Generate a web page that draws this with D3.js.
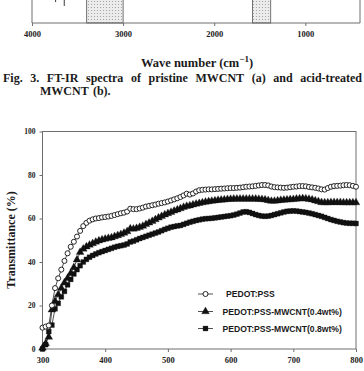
<!DOCTYPE html>
<html>
<head>
<meta charset="utf-8">
<script src="https://cdn.jsdelivr.net/npm/d3@7/dist/d3.min.js"></script>
<style>
  body { margin: 0; background: #fff; }
  svg { display: block; }
</style>
</head>
<body>
<svg width="364" height="371"></svg>
<script>
// ---- data: bottom of previous figure (FT-IR) ----
var irTicks = [4000, 3000, 2000, 1000];
var irBands = [[3400, 3000], [1580, 1380]];
var irTipWave = [3741, 3646];
var irTipLow = [9.1, 7.4];

var captionLine1 = "Fig. 3. FT-IR spectra of pristine MWCNT (a) and acid-treated";
var captionLine2 = "MWCNT (b).";

// ---- data: transmittance chart ----
var seriesNames = ["PEDOT:PSS", "PEDOT:PSS-MWCNT(0.4wt%)", "PEDOT:PSS-MWCNT(0.8wt%)"];
var xTicks = [300, 400, 500, 600, 700, 800];
var yTicks = [0, 20, 40, 60, 80, 100];

var wavelength = [300, 305, 310, 315, 320, 325, 330, 335, 340, 345, 350, 355, 360, 365, 370, 375, 380, 385, 390, 395,
  400, 405, 410, 415, 420, 425, 430, 435, 440, 445, 450, 455, 460, 465, 470, 475, 480, 485, 490, 495,
  500, 505, 510, 515, 520, 525, 530, 535, 540, 545, 550, 555, 560, 565, 570, 575, 580, 585, 590, 595,
  600, 605, 610, 615, 620, 625, 630, 635, 640, 645, 650, 655, 660, 665, 670, 675, 680, 685, 690, 695,
  700, 705, 710, 715, 720, 725, 730, 735, 740, 745, 750, 755, 760, 765, 770, 775, 780, 785, 790, 795, 800];

var pedotPss = [9.8, 10.3, 10.8, 20.0, 28.0, 32.5, 36.5, 40.5, 44.0, 47.0, 49.3, 51.7, 54.3, 56.5, 58.0, 59.0, 59.6, 60.0, 60.2, 60.5,
  60.7, 60.9, 61.2, 61.6, 62.0, 62.4, 62.7, 63.2, 64.5, 64.3, 64.3, 64.6, 65.0, 65.5, 65.8, 66.1, 66.4, 66.8, 67.1, 67.4,
  67.8, 68.3, 68.8, 69.3, 69.9, 70.6, 71.4, 71.0, 71.5, 72.4, 73.0, 73.2, 73.3, 73.4, 73.4, 73.5, 73.6, 73.7, 73.8, 73.9,
  74.0, 74.0, 74.1, 74.2, 74.4, 74.6, 74.7, 74.8, 75.0, 75.2, 75.4, 75.4, 75.2, 74.7, 74.4, 74.3, 74.2, 74.1, 74.2, 74.4,
  74.6, 74.7, 74.9, 74.9, 74.8, 74.5, 74.3, 74.1, 73.8, 73.4, 73.3, 74.0, 74.6, 74.9, 75.0, 75.1, 75.3, 75.4, 75.3, 75.0, 74.6];

var cnt04 = [0.5, 2.5, 5.5, 18.0, 22.0, 25.0, 28.0, 30.5, 32.5, 34.8, 37.5, 41.0, 44.5, 46.0, 47.0, 47.8, 48.5, 49.2, 49.8, 50.2,
  50.6, 50.9, 51.2, 51.7, 52.2, 52.7, 53.3, 54.0, 55.3, 55.2, 55.5, 56.0, 56.5, 57.3, 58.0, 58.7, 59.5, 60.3, 61.0, 61.7,
  62.3, 62.9, 63.5, 64.0, 64.6, 65.2, 65.6, 65.9, 66.3, 66.7, 67.0, 67.3, 67.6, 67.8, 68.0, 68.2, 68.4, 68.5, 68.6, 68.8,
  68.9, 69.0, 69.0, 69.0, 69.0, 69.0, 69.0, 69.0, 69.0, 68.9, 68.8, 68.6, 68.3, 68.0, 68.0, 68.2, 68.4, 68.5, 68.6, 68.7,
  68.8, 69.0, 69.1, 69.2, 69.1, 68.9, 68.6, 68.2, 67.8, 67.4, 67.3, 67.3, 67.4, 67.4, 67.4, 67.4, 67.3, 67.3, 67.3, 67.3, 67.3];

var cnt08 = [0.0, 2.0, 8.0, 11.0, 18.5, 21.0, 24.0, 26.5, 29.5, 32.0, 34.5, 36.5, 38.3, 40.0, 41.2, 42.2, 43.0, 43.7, 44.3, 44.8,
  45.3, 45.8, 46.3, 46.8, 47.2, 47.5, 47.8, 48.3, 49.2, 49.6, 50.2, 50.8, 51.3, 51.8, 52.3, 52.8, 53.3, 53.8, 54.4, 55.0,
  55.5, 56.0, 56.3, 56.6, 56.8, 57.3, 57.8, 58.3, 58.7, 59.1, 59.4, 59.7, 59.9, 60.0, 60.1, 60.3, 60.5, 60.7, 60.9, 61.1,
  61.3, 61.6, 62.0, 62.5, 63.0, 63.1, 62.8, 62.3, 61.8, 61.4, 61.1, 61.0, 61.1, 61.4, 61.8, 62.2, 62.6, 63.0, 63.3, 63.4,
  63.5, 63.4, 63.2, 63.0, 62.8, 62.5, 62.2, 61.8, 61.4, 61.0, 60.5, 60.0, 59.5, 59.1, 58.7, 58.4, 58.1, 57.9, 57.8, 57.8, 57.7];

var svg = d3.select("svg");
var serif = "'Liberation Serif', 'Times New Roman', serif";
var sans = "'Liberation Sans', Arial, sans-serif";
var axisColor = "#6e6e6e";

// dotted fill for the IR bands
var pat = svg.append("defs").append("pattern")
    .attr("id", "dots")
    .attr("width", 3)
    .attr("height", 3)
    .attr("patternUnits", "userSpaceOnUse");
pat.append("rect").attr("width", 3).attr("height", 3).attr("fill", "#ececec");
pat.append("circle").attr("cx", 1.5).attr("cy", 1.5).attr("r", 0.6).attr("fill", "#9a9a9a");

// ================= top fragment (FT-IR) =================
var irX = d3.scaleLinear().domain([4000, 400]).range([32, 360]);
var irY = d3.scaleLinear().domain([0, 10]).range([23, 0]);

svg.selectAll(".band")
    .data(irBands)
    .enter()
    .append("rect")
    .attr("class", "band")
    .attr("x", function (d) { return irX(d[0]); })
    .attr("width", function (d) { return irX(d[1]) - irX(d[0]); })
    .attr("y", irY(10) - 2)
    .attr("height", irY(0) - irY(10) + 2)
    .attr("fill", "url(#dots)")
    .attr("stroke", "#555")
    .attr("stroke-width", 0.8);

svg.selectAll(".tip")
    .data(irTipWave)
    .enter()
    .append("line")
    .attr("x1", function (d) { return irX(d); })
    .attr("x2", function (d) { return irX(d); })
    .attr("y1", irY(10) - 2)
    .attr("y2", function (d, i) { return irY(irTipLow[i]); })
    .attr("stroke", "#222")
    .attr("stroke-width", 0.9);

// frame sides and bottom axis
svg.append("path")
    .attr("d", "M" + irX(4000) + "," + (irY(10) - 2) + "V" + irY(0) + "H" + irX(400) + "V" + (irY(10) - 2))
    .attr("fill", "none")
    .attr("stroke", axisColor)
    .attr("stroke-width", 1);

var irAxis = svg.append("g")
    .attr("transform", "translate(0," + irY(0) + ")")
    .call(d3.axisBottom(irX).tickValues(irTicks).tickSize(3).tickPadding(5).tickFormat(d3.format("d")));
irAxis.select(".domain").remove();
irAxis.selectAll("line").attr("stroke", axisColor);
irAxis.selectAll("text")
    .attr("font-family", serif)
    .attr("font-weight", "bold")
    .attr("font-size", 8.5)
    .attr("fill", "#222");

var waveLabel = svg.append("text")
    .attr("x", 197)
    .attr("y", 66.5)
    .attr("text-anchor", "middle")
    .attr("font-family", serif)
    .attr("font-weight", "bold")
    .attr("font-size", 12.5)
    .attr("fill", "#1a1a1a");
waveLabel.append("tspan").text("Wave number (cm");
waveLabel.append("tspan").attr("dy", -4.5).attr("font-size", 9).text("\u22121");
waveLabel.append("tspan").attr("dy", 4.5).text(")");

// caption, justified first line
var capSize = 12;
var capWords = captionLine1.split(" ");
var capG = svg.append("g");
var capText = capG.selectAll("text")
    .data(capWords)
    .enter()
    .append("text")
    .attr("y", 81.5)
    .attr("font-family", serif)
    .attr("font-weight", "bold")
    .attr("font-size", capSize)
    .attr("fill", "#1a1a1a")
    .text(function (d) { return d; });
var widths = [];
capText.each(function () { widths.push(this.getComputedTextLength()); });
var gap = (362 - 3 - d3.sum(widths)) / (capWords.length - 1);
var cx = 3;
capText.attr("x", function (d, i) {
    var x = cx;
    cx += widths[i] + gap;
    return x;
});
svg.append("text")
    .attr("x", 40)
    .attr("y", 94.5)
    .attr("font-family", serif)
    .attr("font-weight", "bold")
    .attr("font-size", capSize)
    .attr("fill", "#1a1a1a")
    .attr("word-spacing", 1.5)
    .text(captionLine2);

// ================= transmittance chart =================
var x = d3.scaleLinear().domain([300, 800]).range([42.5, 356]);
var y = d3.scaleLinear().domain([0, 100]).range([349, 131.5]);

// frame
svg.append("rect")
    .attr("x", x(300))
    .attr("y", y(100))
    .attr("width", x(800) - x(300))
    .attr("height", y(0) - y(100))
    .attr("fill", "none")
    .attr("stroke", axisColor)
    .attr("stroke-width", 1);

var xAxis = svg.append("g")
    .attr("transform", "translate(0," + y(0) + ")")
    .call(d3.axisBottom(x).tickValues(xTicks).tickSize(3).tickPadding(5));
xAxis.select(".domain").remove();
xAxis.selectAll("line").attr("stroke", axisColor);
xAxis.selectAll("text")
    .attr("font-family", serif)
    .attr("font-weight", "bold")
    .attr("font-size", 8.5)
    .attr("fill", "#222");

var yAxis = svg.append("g")
    .attr("transform", "translate(" + x(300) + ",0)")
    .call(d3.axisLeft(y).tickValues(yTicks).tickSize(3).tickPadding(4));
yAxis.select(".domain").remove();
yAxis.selectAll("line").attr("stroke", axisColor);
yAxis.selectAll("text")
    .attr("font-family", serif)
    .attr("font-weight", "bold")
    .attr("font-size", 7.5)
    .attr("fill", "#222");

svg.append("text")
    .attr("transform", "translate(15," + 240 + ") rotate(-90)")
    .attr("text-anchor", "middle")
    .attr("font-family", serif)
    .attr("font-weight", "bold")
    .attr("font-size", 12)
    .attr("fill", "#1a1a1a")
    .text("Transmittance (%)");

var allSeries = [pedotPss, cnt04, cnt08];
var symbols = [d3.symbolCircle, d3.symbolTriangle, d3.symbolSquare];
var symSize = [20, 26, 24];

var line = d3.line()
    .x(function (d, i) { return x(wavelength[i]); })
    .y(function (d) { return y(d); });

function drawMarker(sel, k) {
    sel.attr("d", d3.symbol().type(symbols[k]).size(symSize[k]))
        .attr("fill", k === 0 ? "#fff" : "#111")
        .attr("stroke", "#111")
        .attr("stroke-width", k === 0 ? 0.9 : 0.3);
}

[2, 1, 0].forEach(function (k) {
    var vals = allSeries[k];
    svg.append("path")
        .datum(vals)
        .attr("d", line)
        .attr("fill", "none")
        .attr("stroke", "#222")
        .attr("stroke-width", 0.8);
    svg.append("g")
        .selectAll("path")
        .data(vals)
        .enter()
        .append("path")
        .attr("transform", function (d, i) {
            return "translate(" + x(wavelength[i]) + "," + y(d) + ")";
        })
        .call(drawMarker, k);
});

// legend
var legendX = 198;
var legendY = [294, 311.5, 328.5];
var legendTextX = [226, 222.5, 222.5];
seriesNames.forEach(function (name, k) {
    svg.append("line")
        .attr("x1", legendX)
        .attr("x2", legendX + 15)
        .attr("y1", legendY[k])
        .attr("y2", legendY[k])
        .attr("stroke", "#222")
        .attr("stroke-width", 0.8);
    svg.append("path")
        .attr("transform", "translate(" + (legendX + 7.5) + "," + legendY[k] + ")")
        .call(drawMarker, k);
    svg.append("text")
        .attr("x", legendTextX[k])
        .attr("y", legendY[k] + 3)
        .attr("font-family", sans)
        .attr("font-weight", "bold")
        .attr("font-size", 8.6)
        .attr("fill", "#1a1a1a")
        .text(name);
});
</script>
</body>
</html>
